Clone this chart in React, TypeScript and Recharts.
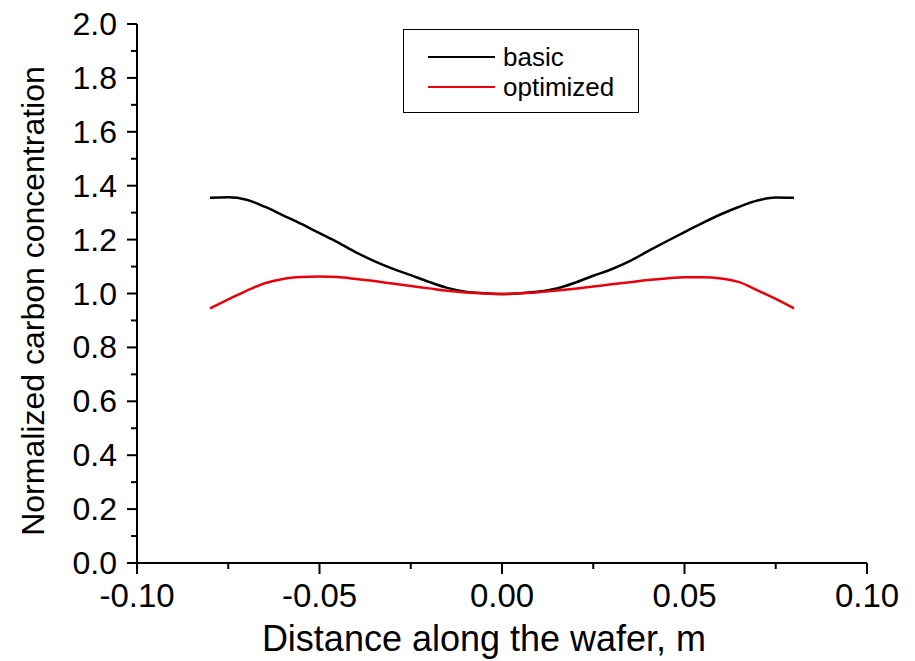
import React from 'react';
import { LineChart, Line, XAxis, YAxis, Legend, Label } from 'recharts';

const positions = [-0.08, -0.075, -0.07, -0.065, -0.06, -0.055, -0.05, -0.045, -0.04, -0.035, -0.03, -0.025, -0.02, -0.015, -0.01, -0.005, 0, 0.005, 0.01, 0.015, 0.02, 0.025, 0.03, 0.035, 0.04, 0.045, 0.05, 0.055, 0.06, 0.065, 0.07, 0.075, 0.08];
const basic = [1.355, 1.357, 1.348, 1.322, 1.29, 1.258, 1.224, 1.19, 1.153, 1.12, 1.092, 1.068, 1.043, 1.021, 1.007, 1.001, 0.998, 1.001, 1.007, 1.019, 1.04, 1.066, 1.09, 1.12, 1.157, 1.193, 1.228, 1.262, 1.294, 1.322, 1.345, 1.356, 1.355];
const optimized = [0.945, 0.978, 1.01, 1.038, 1.054, 1.061, 1.063, 1.061, 1.054, 1.046, 1.037, 1.028, 1.019, 1.01, 1.004, 1.0, 0.998, 1.001, 1.005, 1.011, 1.018, 1.026, 1.034, 1.042, 1.05, 1.056, 1.06, 1.06, 1.056, 1.042, 1.012, 0.98, 0.945];
const xTicks = [-0.1, -0.075, -0.05, -0.025, 0, 0.025, 0.05, 0.075, 0.1];
const yTicks = [0, 0.1, 0.2, 0.3, 0.4, 0.5, 0.6, 0.7, 0.8, 0.9, 1.0, 1.1, 1.2, 1.3, 1.4, 1.5, 1.6, 1.7, 1.8, 1.9, 2.0];
const seriesNames = { basic: 'basic', optimized: 'optimized' };
const xLabel = 'Distance along the wafer, m';
const yLabel = 'Normalized carbon concentration';

const data = positions.map((x, i) => ({ x, basic: basic[i], optimized: optimized[i] }));

const FONT = '"Liberation Sans", Arial, sans-serif';

const XTick = (props: any) => {
  const { x, y, payload, index } = props;
  const major = index % 2 === 0;
  return (
    <g>
      <line x1={x} x2={x} y1={y} y2={y + (major ? 11 : 6)} stroke="#000" strokeWidth={2} />
      {major && (
        <text x={x} y={y + 44} textAnchor="middle" fontSize={33} fontFamily={FONT} fill="#000">
          {payload.value.toFixed(2)}
        </text>
      )}
    </g>
  );
};

const YTick = (props: any) => {
  const { x, y, payload, index } = props;
  const major = index % 2 === 0;
  return (
    <g>
      <line x1={x - (major ? 10 : 6)} x2={x} y1={y} y2={y} stroke="#000" strokeWidth={2} />
      {major && (
        <text x={x - 20} y={y + 11} textAnchor="end" fontSize={32} fontFamily={FONT} fill="#000">
          {payload.value.toFixed(1)}
        </text>
      )}
    </g>
  );
};

const XLabelContent = () => (
  <text x={484} y={651} textAnchor="middle" fontSize={36} fontFamily={FONT} fill="#000">
    {xLabel}
  </text>
);

const YLabelContent = () => (
  <text x={0} y={0} transform="translate(44, 301) rotate(-90)" textAnchor="middle" fontSize={32} fontFamily={FONT} fill="#000">
    {yLabel}
  </text>
);

const LegendBox = () => (
  <div
    style={{
      position: 'absolute',
      left: 403,
      top: 29,
      width: 234,
      height: 82,
      border: '1.5px solid #000',
      background: '#fff',
      fontFamily: FONT,
      fontSize: 26,
      boxSizing: 'content-box',
    }}
  >
    {[
      { name: seriesNames.basic, color: '#000', top: 12 },
      { name: seriesNames.optimized, color: '#e8000b', top: 42 },
    ].map((it) => (
      <div key={it.name} style={{ position: 'absolute', left: 24, top: it.top, display: 'flex', alignItems: 'center', height: 30 }}>
        <div style={{ width: 67, height: 0, borderTop: `2.5px solid ${it.color}` }} />
        <span style={{ marginLeft: 8, lineHeight: '30px', color: '#000' }}>{it.name}</span>
      </div>
    ))}
  </div>
);

export default function App() {
  return (
    <div style={{ position: 'absolute', left: 0, top: 0, width: 915, height: 661, background: '#fff' }}>
      <LineChart width={915} height={661} data={data} margin={{ top: 24, right: 48, left: 0, bottom: 0 }}>
        <XAxis
          dataKey="x"
          type="number"
          domain={[-0.1, 0.1]}
          ticks={xTicks}
          interval={0}
          height={98}
          tickSize={0}
          tickMargin={0}
          tick={<XTick />}
          axisLine={{ stroke: '#000', strokeWidth: 2 }}
          tickLine={false}
        >
          <Label content={<XLabelContent />} />
        </XAxis>
        <YAxis
          type="number"
          domain={[0, 2]}
          ticks={yTicks}
          interval={0}
          width={137}
          tickSize={0}
          tickMargin={0}
          tick={<YTick />}
          axisLine={{ stroke: '#000', strokeWidth: 2 }}
          tickLine={false}
        >
          <Label content={<YLabelContent />} />
        </YAxis>
        <Legend content={<LegendBox />} wrapperStyle={{ position: 'absolute', left: 0, top: 0, width: 0, height: 0 }} />
        <Line type="monotone" dataKey="basic" name={seriesNames.basic} stroke="#000" strokeWidth={2.5} dot={false} isAnimationActive={false} />
        <Line type="monotone" dataKey="optimized" name={seriesNames.optimized} stroke="#e8000b" strokeWidth={2.5} dot={false} isAnimationActive={false} />
      </LineChart>
    </div>
  );
}
